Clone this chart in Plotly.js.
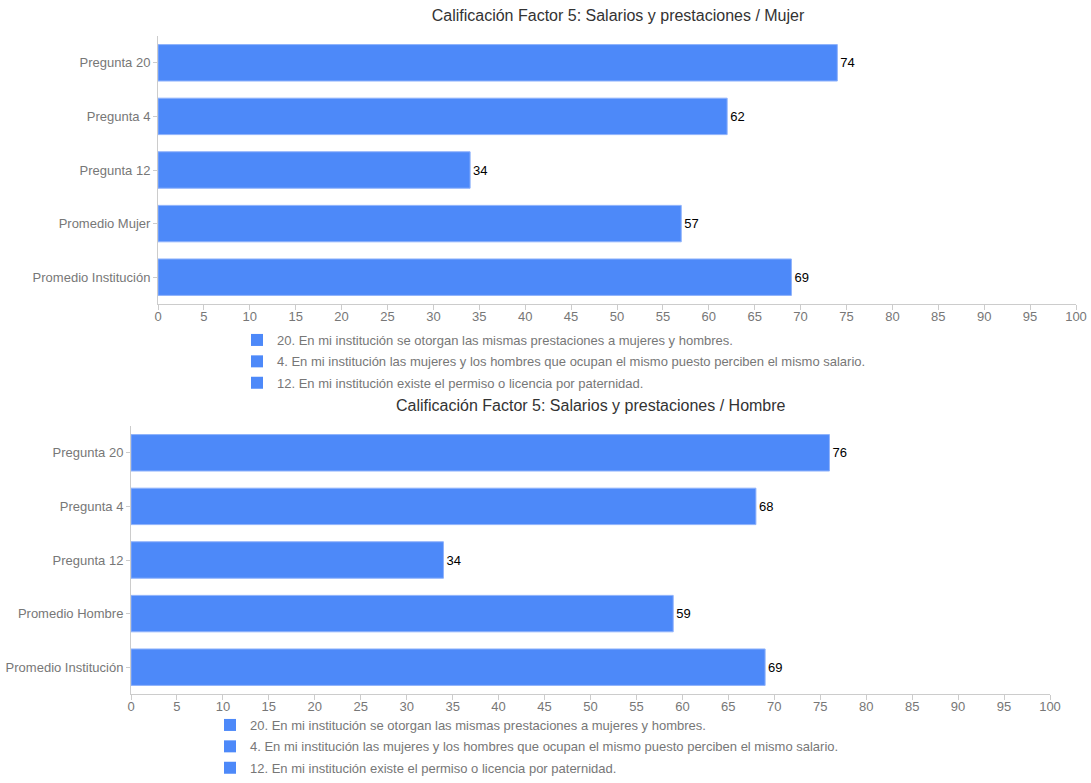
<!DOCTYPE html>
<html>
<head>
<meta charset="utf-8">
<script src="https://cdn.plot.ly/plotly-3.0.1.min.js"></script>
<style>html,body{margin:0;padding:0;background:#fff;}#chart{width:1091px;height:783px;}</style>
</head>
<body>
<div id="chart"></div>
<script>
const categoriesMujer = ['Pregunta 20', 'Pregunta 4', 'Pregunta 12', 'Promedio Mujer', 'Promedio Institución'];
const valuesMujer = [74, 62, 34, 57, 69];
const categoriesHombre = ['Pregunta 20', 'Pregunta 4', 'Pregunta 12', 'Promedio Hombre', 'Promedio Institución'];
const valuesHombre = [76, 68, 34, 59, 69];
const legendLabels = [
  '20. En mi institución se otorgan las mismas prestaciones a mujeres y hombres.',
  '4. En mi institución las mujeres y los hombres que ocupan el mismo puesto perciben el mismo salario.',
  '12. En mi institución existe el permiso o licencia por paternidad.'
];
const titleMujer = 'Calificación Factor 5: Salarios y prestaciones / Mujer';
const titleHombre = 'Calificación Factor 5: Salarios y prestaciones / Hombre';
const xTicks = [0,5,10,15,20,25,30,35,40,45,50,55,60,65,70,75,80,85,90,95,100];

const BAR = '#4D89F9';
const FONT = 'Liberation Sans, Arial, sans-serif';
const W = 1091, H = 783;
const px = v => v / W;
const py = v => 1 - v / H;

function barTrace(cats, vals, xa, ya) {
  return {
    type: 'bar', orientation: 'h', x: vals, y: cats, xaxis: xa, yaxis: ya,
    marker: {color: BAR, line: {color: '#8fb2fb', width: 1}},
    text: vals.map(String), textposition: 'outside', cliponaxis: false,
    textfont: {color: '#000', size: 13, family: FONT},
    showlegend: false, hoverinfo: 'x+y'
  };
}
function legendTraces(xa, ya, legendId) {
  return legendLabels.map((name, i) => ({
    type: 'bar', orientation: 'h', x: [null], y: [null], xaxis: xa, yaxis: ya,
    name: name, legend: legendId, legendgroup: legendId + i,
    marker: {color: BAR}, showlegend: true
  }));
}

const data = [
  barTrace(categoriesMujer, valuesMujer, 'x', 'y'),
  ...legendTraces('x', 'y', 'legend'),
  barTrace(categoriesHombre, valuesHombre, 'x2', 'y2'),
  ...legendTraces('x2', 'y2', 'legend2')
];

const tickFont = {color: '#777777', size: 13, family: FONT};
function xAxis(d0, d1, anchor) {
  return {
    domain: [d0, d1], anchor: anchor, range: [0, 100], tickvals: xTicks,
    showgrid: false, zeroline: false, showline: true, linecolor: '#cccccc', linewidth: 1,
    ticks: 'outside', ticklen: 5, tickcolor: '#cccccc', tickfont: tickFont,
    ticklabelstandoff: -5, fixedrange: true
  };
}
function yAxis(d0, d1, anchor) {
  return {
    domain: [d0, d1], anchor: anchor, autorange: 'reversed', type: 'category',
    showgrid: false, zeroline: false, showline: true, linecolor: '#cccccc', linewidth: 1,
    ticks: 'outside', ticklen: 4, tickcolor: '#cccccc', tickfont: tickFont, ticklabelstandoff: 0, fixedrange: true
  };
}
const legendBase = {
  orientation: 'v', xanchor: 'left', yanchor: 'top', traceorder: 'grouped', tracegroupgap: 1.5,
  font: {color: '#777777', size: 13, family: FONT},
  bgcolor: 'rgba(0,0,0,0)', borderwidth: 0
};

const layout = {
  width: W, height: H,
  margin: {l: 0, r: 0, t: 0, b: 0},
  paper_bgcolor: '#fff', plot_bgcolor: '#fff',
  barmode: 'overlay', bargap: 0.32,
  font: {family: FONT},
  title: {text: titleMujer, x: px(618), xanchor: 'center', y: py(15), yanchor: 'middle',
          font: {size: 16, color: '#333333', family: FONT}},
  xaxis: xAxis(px(158), px(1076), 'y'),
  yaxis: yAxis(py(304), py(36), 'x'),
  xaxis2: xAxis(px(131), px(1050), 'y2'),
  yaxis2: yAxis(py(694), py(426), 'x2'),
  legend: Object.assign({}, legendBase, {x: px(237), y: py(325)}),
  legend2: Object.assign({}, legendBase, {x: px(210), y: 0, yanchor: 'bottom'}),
  annotations: [{
    text: titleHombre, xref: 'paper', yref: 'paper', x: px(591), y: py(405),
    xanchor: 'center', yanchor: 'middle', showarrow: false,
    font: {size: 16, color: '#333333', family: FONT}
  }]
};

Plotly.newPlot('chart', data, layout, {displayModeBar: false, staticPlot: false});
</script>
</body>
</html>
